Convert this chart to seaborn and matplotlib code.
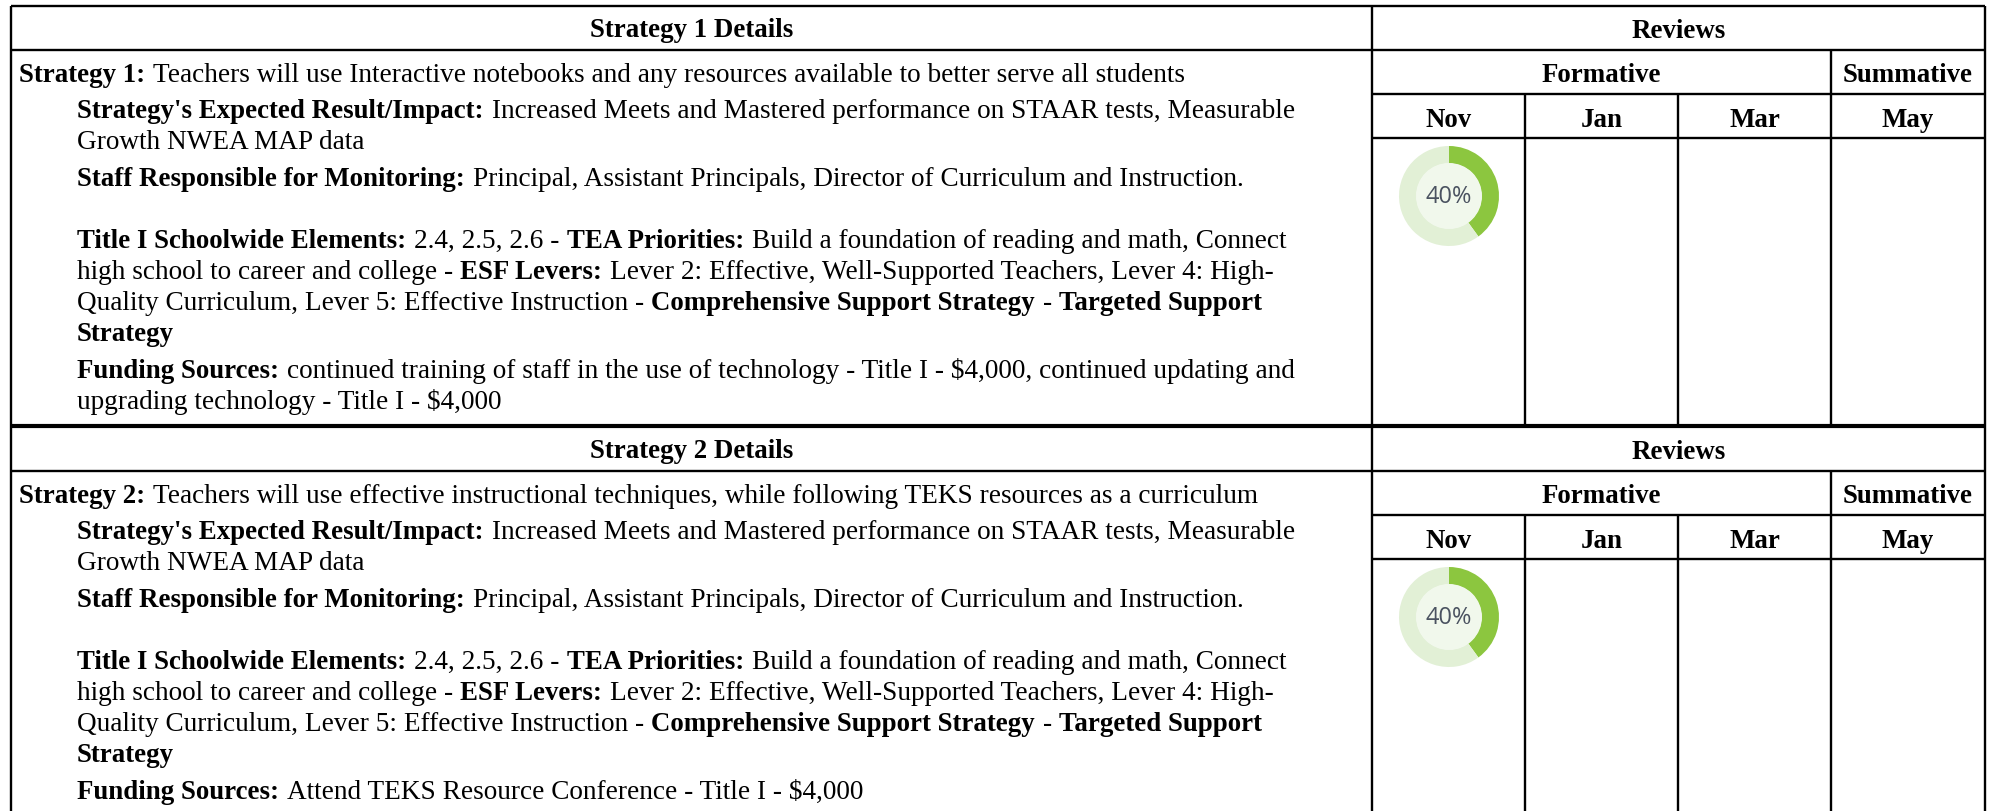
import matplotlib
matplotlib.use('Agg')
import matplotlib.pyplot as plt
import seaborn as sns

sns.set_theme(style='white')
plt.rcParams['font.family'] = ['Liberation Serif', 'DejaVu Serif']

# data
months = ['Nov', 'Jan', 'Mar', 'May']
progress = [40, 40]
donut_colors = ['#8cc63f', '#e2f0d6']

strategy_1 = [
    [('Strategy 1:', True), ('Teachers will use Interactive notebooks and any resources available to better serve all students', False)],
    [("Strategy's Expected Result/Impact:", True), ('Increased Meets and Mastered performance on STAAR tests, Measurable', False)],
    [('Growth NWEA MAP data', False)],
    [('Staff Responsible for Monitoring:', True), ('Principal, Assistant Principals, Director of Curriculum and Instruction.', False)],
    [('Title I Schoolwide Elements:', True), ('2.4, 2.5, 2.6 -', False), ('TEA Priorities:', True), ('Build a foundation of reading and math, Connect', False)],
    [('high school to career and college -', False), ('ESF Levers:', True), ('Lever 2: Effective, Well-Supported Teachers, Lever 4: High-', False)],
    [('Quality Curriculum, Lever 5: Effective Instruction -', False), ('Comprehensive Support Strategy', True), ('-', False), ('Targeted Support', True)],
    [('Strategy', True)],
    [('Funding Sources:', True), ('continued training of staff in the use of technology - Title I - $4,000, continued updating and', False)],
    [('upgrading technology - Title I - $4,000', False)],
]
strategy_2 = [
    [('Strategy 2:', True), ('Teachers will use effective instructional techniques, while following TEKS resources as a curriculum', False)],
] + strategy_1[1:8] + [
    [('Funding Sources:', True), ('Attend TEKS Resource Conference - Title I - $4,000', False)],
]
titles = ['Strategy 1 Details', 'Strategy 2 Details']

# layout in pixels
W, H = 1993, 811
col_x = [1372, 1525, 1678, 1831, 1985]
left, top = 11, 6
block_shift = 421
row_base = [82, 118, 149, 186, 248, 279, 310, 341, 378, 409]
row_x = [19, 77, 77, 77, 77, 77, 77, 77, 77, 77]
fs_bold = 19.4
fs_reg = 19.6
lc = '#000000'

fig = plt.figure(figsize=(W / 100, H / 100), dpi=100, facecolor='white')
ax = fig.add_axes([0, 0, 1, 1])
ax.set_xlim(0, W)
ax.set_ylim(H, 0)
ax.axis('off')
rend = fig.canvas.get_renderer()


def width(s, bold):
    t = ax.text(0, 0, s, fontsize=fs_bold if bold else fs_reg,
                fontweight='bold' if bold else 'normal')
    w = t.get_window_extent(rend).width
    t.remove()
    return w


space = width('x x', False) - width('xx', False)


def draw_row(x, y, runs):
    for s, bold in runs:
        ax.text(x, y, s, fontsize=fs_bold if bold else fs_reg,
                fontweight='bold' if bold else 'normal',
                color='black', va='baseline', ha='left')
        x += width(s, bold) + space + (1.5 if bold else 0)


def hline(y, x0, x1, lw=1.7):
    ax.plot([x0, x1], [y, y], color=lc, lw=lw, solid_capstyle='butt')


def vline(x, y0, y1, lw=1.7):
    ax.plot([x, x], [y0, y1], color=lc, lw=lw, solid_capstyle='butt')


def draw_block(dy, title, rows, pct, bottom):
    hline(dy + 50, left, col_x[-1])
    hline(dy + 94, col_x[0], col_x[-1])
    hline(dy + 138, col_x[0], col_x[-1])
    vline(col_x[0], dy + top, bottom)
    vline(col_x[3], dy + 50, bottom)
    for x in col_x[1:3]:
        vline(x, dy + 94, bottom)

    bold_mid = dict(fontsize=fs_bold, fontweight='bold', ha='center', va='baseline', color='black')
    ax.text((left + col_x[0]) / 2, dy + 37, title, **bold_mid)
    ax.text((col_x[0] + col_x[-1]) / 2, dy + 38, 'Reviews', **bold_mid)
    ax.text((col_x[0] + col_x[3]) / 2, dy + 82, 'Formative', **bold_mid)
    ax.text((col_x[3] + col_x[4]) / 2, dy + 82, 'Summative', **bold_mid)
    for i, m in enumerate(months):
        ax.text((col_x[i] + col_x[i + 1]) / 2, dy + 127, m, **bold_mid)

    for i, runs in enumerate(rows):
        draw_row(row_x[i], dy + row_base[i], runs)

    # progress donut
    size = 100
    cx, cy = 1449, dy + 196
    dax = fig.add_axes([(cx - size / 2) / W, 1 - (cy + size / 2) / H, size / W, size / H])
    dax.pie([pct, 100 - pct], colors=donut_colors, startangle=90, counterclock=False,
            radius=1.0, wedgeprops=dict(width=0.35, linewidth=0))
    dax.add_patch(plt.Circle((0, 0), 0.66, color='#f1f8ec', lw=0))
    dax.set_xlim(-1, 1)
    dax.set_ylim(-1, 1)
    dax.text(0, -0.02, f'{pct}%', ha='center', va='center', fontsize=17,
             family='Open Sans', color='#4a5260')


# outer frame
hline(top, left, col_x[-1])
vline(left, top, H)
vline(col_x[-1], top, H)
draw_block(0, titles[0], strategy_1, progress[0], 425)
hline(426, left, col_x[-1], lw=3)
draw_block(block_shift, titles[1], strategy_2, progress[1], H)

fig.savefig('out.png', dpi=100)
